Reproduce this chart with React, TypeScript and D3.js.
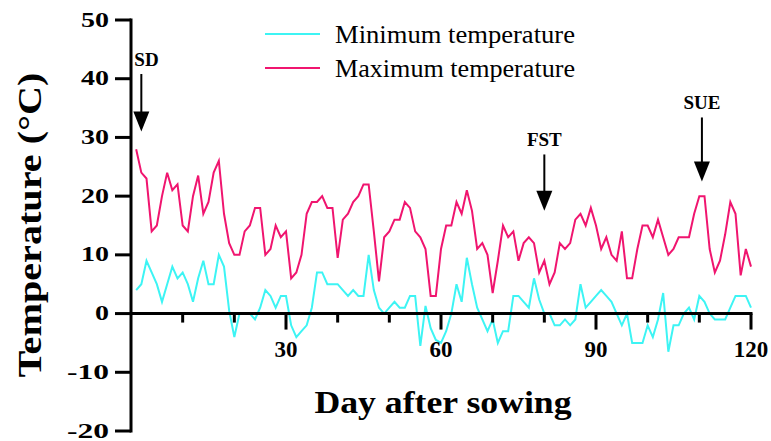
import React from "react";
import * as d3 from "d3";

const maxTemp = [28,24,23,14,15,20,24,21,22,15,14,20,23.5,17,19,24,26,17,12,10,
10,14,15,18,18,10,11,15,13,14,6,7,10,17,19,19,20,18,18,9.5,
16,17,19,20,22,22,14,5.5,13,14,16,16,19,18,14,13,11,3,3,11,
15,15,19,17,21,17.5,11,12,10,3.5,9,15,13,14,9,12,13,12,7,9,
5,7,12,11,12,16,17,15,18,15,11,13,10,9,14,6,6,11,15,15,
13,16,13,10,11,13,13,13,17,20,20,11,7,9,13.5,19,17,6.5,11,8];

const minTemp = [4,5,9,7,5,2,5,8,6,7,5,2,6,9,5,5,10,8,0.5,-4,
0,0,0,-1,1,4,3,1,3,3,-2,-4,-3,-2,1,7,7,5,5,5,
4,3,4,3,3,10,4,1,0,1,2,1,1,3,3,-5.5,1.3,-2.5,-4.5,-5,
-3,0,5,2,9.5,5,1,-1,-3,-1,-5,-3,-3,3,3,2,1,6,2.4,0,
0,-2,-2,-1,-2,-1,5,1,2,3,4,3,2,0,-2,0,-5,-5,-5,-2,
-4,-1,3.5,-6.5,-2,-2,0,1,-1,3,2,0,-1,-1,-1,1,3,3,3,1];

const yTicks = [-20,-10,0,10,20,30,40,50];
const xMajorTicks = [30,60,90,120];
const xMinorTicks = [10,20,40,50,70,80,100,110];

const seriesNames = ["Minimum temperature","Maximum temperature"];
const seriesColors = ["#3DF4F4","#F0156F"];

const arrowLabels = ["SD","FST","SUE"];
const arrowDays = [2,80,110.5];
const arrowTipValues = [31,17.5,22.5];
const arrowTopValues = [40.8,27.1,33.4];

const W = 771, H = 441;

export default function App() {
  const x = d3.scaleLinear().domain([0,120]).range([131,751]);
  const y = d3.scaleLinear().domain([-20,50]).range([431,20]);
  const line = d3.line<number>().x((d,i)=>x(i+1)).y(d=>y(d));
  const font = "'Times New Roman','Liberation Serif',serif";
  return (
    <svg width={W} height={H} style={{position:"absolute",left:0,top:0,background:"#fff"}} fontFamily={font}>
      {/* data lines */}
      <path d={line(minTemp) || ""} fill="none" stroke={seriesColors[0]} strokeWidth={2} strokeLinejoin="miter"/>
      <path d={line(maxTemp) || ""} fill="none" stroke={seriesColors[1]} strokeWidth={2} strokeLinejoin="miter"/>
      {/* y axis */}
      <line x1={x(0)} x2={x(0)} y1={y(50)-1.5} y2={y(-20)+1.5} stroke="#000" strokeWidth={3}/>
      {yTicks.map(t=>(
        <g key={t}>
          <line x1={x(0)-16} x2={x(0)} y1={y(t)} y2={y(t)} stroke="#000" strokeWidth={3}/>
          <text x={x(0)-22} y={y(t)} dy="0.3em" textAnchor="end" fontWeight="bold" fontSize={22} textLength={t < 0 ? 42 : t === 0 ? 14 : 28} lengthAdjust="spacingAndGlyphs">{t}</text>
        </g>
      ))}
      {/* x axis */}
      <line x1={x(0)} x2={x(120)+1.5} y1={y(0)} y2={y(0)} stroke="#000" strokeWidth={3}/>
      {xMajorTicks.map(t=>(
        <g key={t}>
          <line x1={x(t)} x2={x(t)} y1={y(0)} y2={y(0)+16} stroke="#000" strokeWidth={3}/>
          <text x={x(t)} y={y(0)+43} textAnchor="middle" fontWeight="bold" fontSize={23}>{t}</text>
        </g>
      ))}
      {xMinorTicks.map(t=>(
        <line key={t} x1={x(t)} x2={x(t)} y1={y(0)} y2={y(0)+9} stroke="#000" strokeWidth={3}/>
      ))}
      {/* axis titles */}
      <text x={443} y={413} textAnchor="middle" fontWeight="bold" fontSize={32} textLength={257} lengthAdjust="spacingAndGlyphs">Day after sowing</text>
      <text transform="translate(41,225) rotate(-90)" textAnchor="middle" fontWeight="bold" fontSize={33} textLength={305} lengthAdjust="spacingAndGlyphs">Temperature (°C)</text>
      {/* legend */}
      {seriesNames.map((n,i)=>(
        <g key={n}>
          <line x1={265} x2={320} y1={34+i*34} y2={34+i*34} stroke={seriesColors[i]} strokeWidth={2}/>
          <text x={335} y={34+i*34} dy="0.35em" fontSize={25} textLength={240} lengthAdjust="spacingAndGlyphs">{n}</text>
        </g>
      ))}
      {/* arrows */}
      {arrowLabels.map((l,i)=>{
        const ax = x(arrowDays[i]);
        const tip = y(arrowTipValues[i]);
        const top = y(arrowTopValues[i]);
        return (
          <g key={l}>
            <text x={i === 0 ? ax - 7 : ax} y={top-8} textAnchor={i === 0 ? "start" : "middle"} fontWeight="bold" fontSize={19}>{l}</text>
            <line x1={ax} x2={ax} y1={top} y2={tip-18} stroke="#000" strokeWidth={2}/>
            <path d={`M${ax-8},${tip-20} L${ax+8},${tip-20} L${ax},${tip} Z`} fill="#000"/>
          </g>
        );
      })}
    </svg>
  );
}
